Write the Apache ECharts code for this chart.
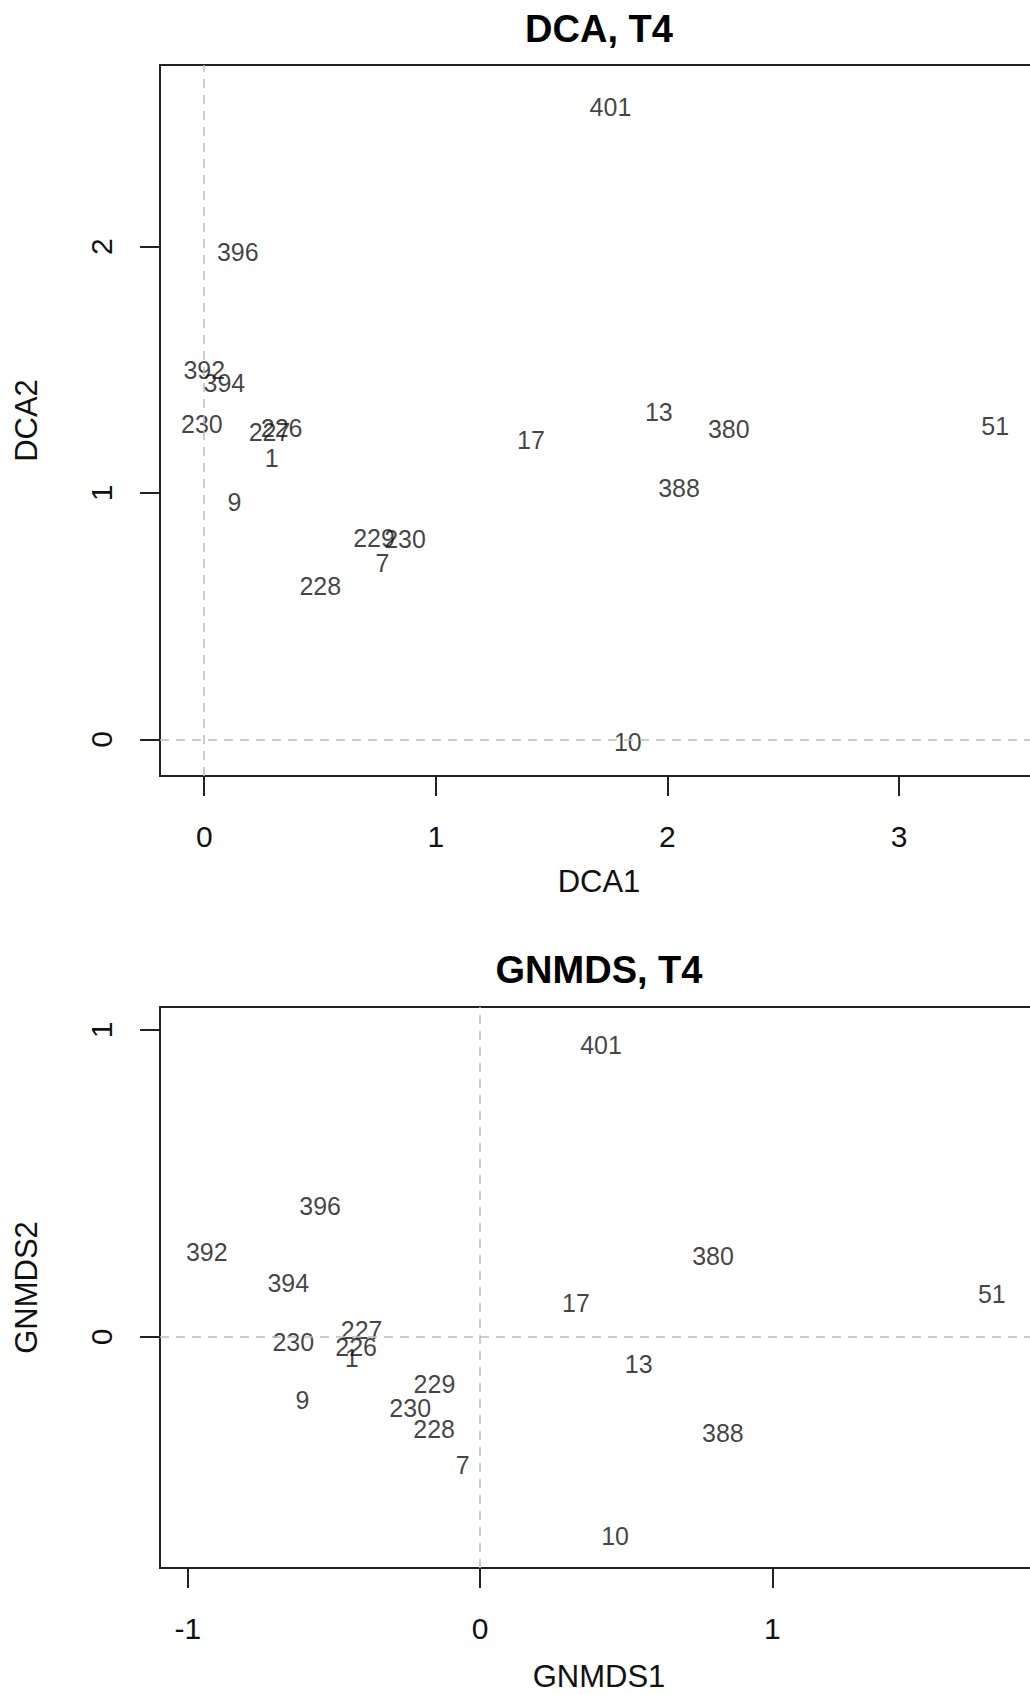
<!DOCTYPE html>
<html>
<head>
<meta charset="utf-8">
<script src="https://cdn.jsdelivr.net/npm/echarts@6/dist/echarts.min.js"></script>
<style>
  html, body { margin: 0; padding: 0; background: #fff; overflow: hidden; }
  #chart { width: 1030px; height: 1695px; }
</style>
</head>
<body>
<div id="chart"></div>
<script>
// Site labels (same plots in both ordinations)
const sites = ['401', '396', '392', '394', '230', '227', '226', '1', '9', '229', '230', '7', '228', '17', '13', '380', '388', '51', '10'];

// DCA site scores, axes 1 and 2
const dca1 = [1.754, 0.145, 0.000, 0.087, -0.010, 0.282, 0.334, 0.291, 0.130, 0.733, 0.867, 0.770, 0.501, 1.411, 1.963, 2.265, 2.050, 3.415, 1.829];
const dca2 = [2.566, 1.978, 1.500, 1.445, 1.278, 1.248, 1.265, 1.143, 0.964, 0.816, 0.812, 0.714, 0.622, 1.216, 1.327, 1.258, 1.020, 1.272, -0.010];

// GNMDS site scores, axes 1 and 2
const gnmds1 = [0.414, -0.547, -0.935, -0.656, -0.639, -0.405, -0.424, -0.439, -0.608, -0.156, -0.239, -0.059, -0.157, 0.328, 0.543, 0.797, 0.831, 1.751, 0.462];
const gnmds2 = [0.951, 0.427, 0.278, 0.175, -0.018, 0.021, -0.032, -0.069, -0.205, -0.153, -0.232, -0.417, -0.301, 0.110, -0.089, 0.263, -0.312, 0.140, -0.650];

// Tick positions
const dcaXTicks = [0, 1, 2, 3];
const dcaYTicks = [0, 1, 2];
const gnmdsXTicks = [-1, 0, 1];
const gnmdsYTicks = [0, 1];

const FONT = '"Liberation Sans", Arial, sans-serif';
const INK = '#111';
const FRAME = '#222';

function xAxisDef(gridIndex, min, max, ticks, name, nameGap) {
  return {
    type: 'value', gridIndex, min, max,
    name, nameLocation: 'middle', nameGap,
    nameTextStyle: { fontFamily: FONT, fontSize: 31, color: INK },
    axisLine: { show: true, onZero: false, lineStyle: { color: FRAME, width: 2 } },
    axisTick: { show: true, inside: false, length: 20, customValues: ticks, lineStyle: { color: FRAME, width: 2 } },
    axisLabel: { show: true, customValues: ticks, margin: 45, fontFamily: FONT, fontSize: 30, color: INK,
                 showMinLabel: true, showMaxLabel: true },
    splitLine: { show: false }
  };
}

function yAxisDef(gridIndex, min, max, ticks, name) {
  return {
    type: 'value', gridIndex, min, max,
    name, nameLocation: 'middle', nameGap: 118, nameRotate: 90,
    nameTextStyle: { fontFamily: FONT, fontSize: 31, color: INK },
    axisLine: { show: true, onZero: false, lineStyle: { color: FRAME, width: 2 } },
    axisTick: { show: true, inside: false, length: 20, customValues: ticks, lineStyle: { color: FRAME, width: 2 } },
    axisLabel: { show: true, customValues: ticks, rotate: 90, margin: 44, fontFamily: FONT, fontSize: 30, color: INK,
                 showMinLabel: true, showMaxLabel: true },
    splitLine: { show: false }
  };
}

function zeroLines() {
  return {
    silent: true, animation: false,
    symbol: ['none', 'none'],
    label: { show: false },
    lineStyle: { color: '#bdbdbd', width: 1.5, type: [9, 7] },
    emphasis: { disabled: true },
    data: [{ xAxis: 0 }, { yAxis: 0 }]
  };
}

function labelSeries(idx, xs, ys) {
  return {
    type: 'scatter', xAxisIndex: idx, yAxisIndex: idx,
    symbolSize: 0,
    itemStyle: { color: 'rgba(0,0,0,0)' },
    label: {
      show: true, position: 'inside', formatter: p => p.value[2],
      fontFamily: FONT, fontSize: 25, color: INK
    },
    emphasis: { disabled: true },
    markLine: zeroLines(),
    data: sites.map((s, i) => [xs[i], ys[i], s]),
    z: 3
  };
}

const chart = echarts.init(document.getElementById('chart'), null, { renderer: 'svg' });
chart.setOption({
  animation: false,
  backgroundColor: '#fff',
  title: [
    { text: 'DCA, T4', left: 599, top: 29, textAlign: 'center', textVerticalAlign: 'middle', padding: 0,
      textStyle: { fontFamily: FONT, fontSize: 38, fontWeight: 'bold', color: '#000' } },
    { text: 'GNMDS, T4', left: 599, top: 970, textAlign: 'center', textVerticalAlign: 'middle', padding: 0,
      textStyle: { fontFamily: FONT, fontSize: 38, fontWeight: 'bold', color: '#000' } }
  ],
  // plot frames run past the right edge of the page
  grid: [
    { left: 160, top: 65, height: 711, width: 878, outerBoundsMode: 'none', containLabel: false,
      show: true, borderColor: FRAME, borderWidth: 2, backgroundColor: 'transparent' },
    { left: 160, top: 1007, height: 561, width: 878, outerBoundsMode: 'none', containLabel: false,
      show: true, borderColor: FRAME, borderWidth: 2, backgroundColor: 'transparent' }
  ],
  xAxis: [
    xAxisDef(0, -0.191, 3.60, dcaXTicks, 'DCA1', 90),
    xAxisDef(1, -1.095, 1.909, gnmdsXTicks, 'GNMDS1', 93)
  ],
  yAxis: [
    yAxisDef(0, -0.149, 2.737, dcaYTicks, 'DCA2'),
    yAxisDef(1, -0.753, 1.075, gnmdsYTicks, 'GNMDS2')
  ],
  series: [
    labelSeries(0, dca1, dca2),
    labelSeries(1, gnmds1, gnmds2)
  ]
});
</script>
</body>
</html>
